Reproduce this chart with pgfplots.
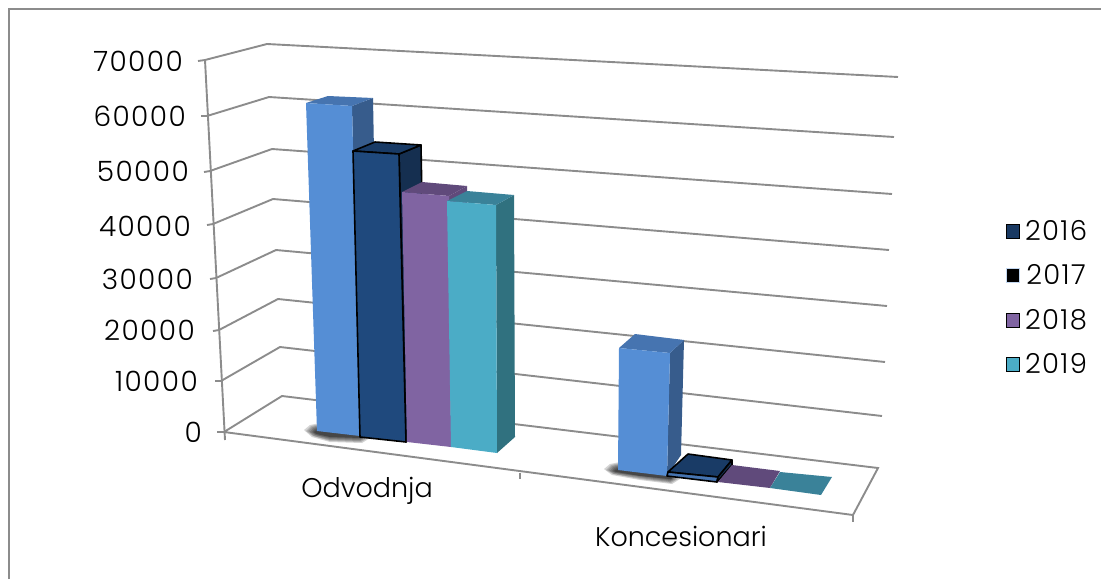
\documentclass[border=0pt]{standalone}
\usepackage{fontspec}
\setmainfont{Poppins}[UprightFont=* Light, LetterSpace=5]
\usepackage{pgfplots}
\pgfplotsset{compat=1.18}

\definecolor{gridc}{HTML}{8C8C8C}
\definecolor{blueF}{HTML}{558ED5}
\definecolor{blueT}{HTML}{4674B0}
\definecolor{blueS}{HTML}{375C8C}
\definecolor{navyF}{HTML}{1F497D}
\definecolor{navyT}{HTML}{193B66}
\definecolor{navyS}{HTML}{152F50}
\definecolor{purpF}{HTML}{8064A2}
\definecolor{purpT}{HTML}{604A7B}
\definecolor{tealF}{HTML}{4BACC6}
\definecolor{tealT}{HTML}{3A8299}
\definecolor{tealS}{HTML}{30717F}

\pgfplotsset{
  grid line/.style={gridc, line width=1.9pt, mark=none, forget plot},
  frame line/.style={gridc, line width=2.6pt, mark=none, forget plot},
  face/.style={fill=#1, draw=none, mark=none, forget plot},
  edged/.style={fill=#1, draw=black, line width=1.6pt, line join=round, mark=none, forget plot},
  shade/.style={fill=black, draw=none, opacity=.17, mark=none, forget plot},
}
\newcommand{\tick}[3]{\node[anchor=east, font=\fontsize{28}{30}\selectfont, inner sep=0pt] at (axis cs:#1,#2) {#3};}

\begin{document}
\begin{tikzpicture}
\useasboundingbox (0,0) rectangle (1101pt,579pt);
\begin{axis}[
  scale only axis,
  width=1101pt, height=579pt,
  xmin=0, xmax=1101, ymin=0, ymax=579,
  y dir=reverse,
  axis lines=none,
  legend style={at={(axis cs:1003,220)}, anchor=north west, draw=none, fill=none,
    font=\fontsize{27.5}{29}\selectfont, row sep=23pt, inner sep=0pt, outer sep=0pt,
    nodes={inner sep=0pt, outer sep=0pt}},
  legend image code/.code={\path[#1] (3pt,-7pt) rectangle (16pt,7pt);
    \path (0pt,0pt) (21pt,0pt);},
]
% outer frame of the picture
\addplot[frame line] coordinates {(9,579) (9,9) (1101,9)};

% gridlines: front of the left wall, back corner, right end (0 to 70000)
\addplot[grid line] coordinates {(205,60) (267,44) (898,77)};
\addplot[grid line] coordinates {(207,116) (269,97) (894,137)};
\addplot[grid line] coordinates {(210,171) (272,149) (892,194)};
\addplot[grid line] coordinates {(213,224) (273,199) (889,250)};
\addplot[grid line] coordinates {(216,278) (276,250) (887,306)};
\addplot[grid line] coordinates {(219,330) (278,299) (885,362)};
\addplot[grid line] coordinates {(221,381) (280,347) (882,416)};
% vertical axis and tick stubs
\addplot[grid line] coordinates {(205,60) (225,440)};
\addplot[grid line] coordinates {(198,61) (205,60)};
\addplot[grid line] coordinates {(201,116) (207,116)};
\addplot[grid line] coordinates {(204,172) (210,171)};
\addplot[grid line] coordinates {(207,225) (213,224)};
\addplot[grid line] coordinates {(210,279) (216,278)};
\addplot[grid line] coordinates {(213,331) (219,330)};
\addplot[grid line] coordinates {(215,381) (221,381)};
\addplot[grid line] coordinates {(217,432) (224,432)};
% floor
\addplot[grid line] coordinates {(224,432) (282,396) (878,468) (853,515) (224,432)};
\addplot[grid line] coordinates {(853,515) (853,522)};
\addplot[grid line] coordinates {(520,473) (520,479)};

% shadows at the foot of the bars, built up in layers
\addplot[shade] coordinates {(304,430) (310,425) (320,423) (360,430) (370,438) (362,443) (330,442) (312,437)} --cycle;
\addplot[shade] coordinates {(306,431) (311,426) (320,424) (360,431) (368,438) (361,442) (330,441) (313,436)} --cycle;
\addplot[shade] coordinates {(308,431) (312,427) (320,425) (360,432) (366,438) (360,441) (330,440) (314,436)} --cycle;
\addplot[shade] coordinates {(310,432) (313,428) (320,426) (360,433) (364,438) (360,440) (330,439) (315,435)} --cycle;
\addplot[shade] coordinates {(312,432) (314,429) (320,427) (360,434) (363,438) (360,439) (330,438) (316,435)} --cycle;
\addplot[shade] coordinates {(313,432) (315,430) (320,428) (360,435) (362,438) (360,438) (330,437) (316,434)} --cycle;
\addplot[shade] coordinates {(314,432) (316,431) (320,429) (360,436) (362,438) (360,438) (330,437) (317,434)} --cycle;
\addplot[shade] coordinates {(604,469) (610,464) (620,462) (670,470) (680,479) (672,484) (640,480) (612,475)} --cycle;
\addplot[shade] coordinates {(606,470) (611,465) (620,463) (670,471) (678,479) (671,483) (640,479) (613,474)} --cycle;
\addplot[shade] coordinates {(608,470) (612,466) (620,464) (670,472) (676,479) (670,482) (640,478) (614,474)} --cycle;
\addplot[shade] coordinates {(610,471) (613,467) (620,465) (670,473) (674,479) (670,481) (640,477) (615,473)} --cycle;
\addplot[shade] coordinates {(612,471) (614,468) (620,466) (670,474) (673,479) (670,480) (640,476) (616,473)} --cycle;
\addplot[shade] coordinates {(613,471) (615,469) (620,467) (670,475) (672,479) (670,479) (640,476) (616,472)} --cycle;
\addplot[shade] coordinates {(614,471) (616,470) (620,468) (670,476) (672,479) (670,479) (640,476) (617,472)} --cycle;

% Odvodnja, 2016 (about 61000)
\addplot[face=blueS] coordinates {(352,106) (373,98) (379,420) (360,436)} --cycle;
\addplot[face=blueT] coordinates {(306,103) (328,96) (373,98) (352,106)} --cycle;
\addplot[face=blueF] coordinates {(306,103) (352,106) (360,436) (317,431)} --cycle;
% Odvodnja, 2017 (about 52000)
\addplot[edged=navyS] coordinates {(399,154) (421,145) (426,425) (406,442)} --cycle;
\addplot[edged=navyT] coordinates {(353,151) (375,142) (421,145) (399,154)} --cycle;
\addplot[edged=navyF] coordinates {(353,151) (399,154) (406,442) (360,437)} --cycle;
% Odvodnja, 2018 (about 44000)
\addplot[face=purpT] coordinates {(449,196) (467,186) (470,430) (451,447)} --cycle;
\addplot[face=purpT] coordinates {(402,192) (422,182) (467,186) (449,196)} --cycle;
\addplot[face=purpF] coordinates {(402,192) (449,196) (451,447) (407,442)} --cycle;
% Odvodnja, 2019 (about 43000)
\addplot[face=tealS] coordinates {(496,205) (514,195) (515,437) (497,453)} --cycle;
\addplot[face=tealT] coordinates {(447,201) (467,191) (514,195) (496,205)} --cycle;
\addplot[face=tealF] coordinates {(447,201) (496,205) (497,453) (451,447)} --cycle;

% Koncesionari, 2016 (about 16000)
\addplot[face=blueS] coordinates {(670,353) (684,340) (681,455) (667,476)} --cycle;
\addplot[face=blueT] coordinates {(619,348) (635,334) (684,340) (670,353)} --cycle;
\addplot[face=blueF] coordinates {(619,348) (670,353) (667,476) (618,470)} --cycle;
% Koncesionari, 2017 (about 600)
\addplot[edged=navyT] coordinates {(668,472) (688,454) (732,460) (718,477)} --cycle;
\addplot[edged=blueT] coordinates {(668,472) (718,477) (717,482) (667,476)} --cycle;
\addplot[edged=navyS] coordinates {(718,477) (732,460) (732,465) (717,482)} --cycle;
% Koncesionari, 2018 and 2019 (about 0)
\addplot[face=purpT] coordinates {(718,482) (732,465) (780,471) (770,488)} --cycle;
\addplot[face=tealT] coordinates {(770,488) (780,472) (832,477) (821,495)} --cycle;

% legend
\addlegendimage{fill=navyS!60!navyF}
\addlegendentry{2016}
\addlegendimage{fill=black, draw=blueF!35, line width=1pt}
\addlegendentry{2017}
\addlegendimage{fill=purpF}
\addlegendentry{2018}
\addlegendimage{fill=tealF}
\addlegendentry{2019}

% value labels
\tick{183}{61}{70000}
\tick{186}{116}{60000}
\tick{189}{171}{50000}
\tick{191}{226}{40000}
\tick{193}{279}{30000}
\tick{195}{330}{20000}
\tick{198}{381}{10000}
\tick{202}{432}{0}
% category labels
\node[font=\fontsize{27}{29}\selectfont\addfontfeature{LetterSpace=0}, inner sep=0pt] at (axis cs:367,491) {Odvodnja};
\node[font=\fontsize{27}{29}\selectfont\addfontfeature{LetterSpace=0}, inner sep=0pt] at (axis cs:681,536) {Koncesionari};
\end{axis}
\end{tikzpicture}
\end{document}
